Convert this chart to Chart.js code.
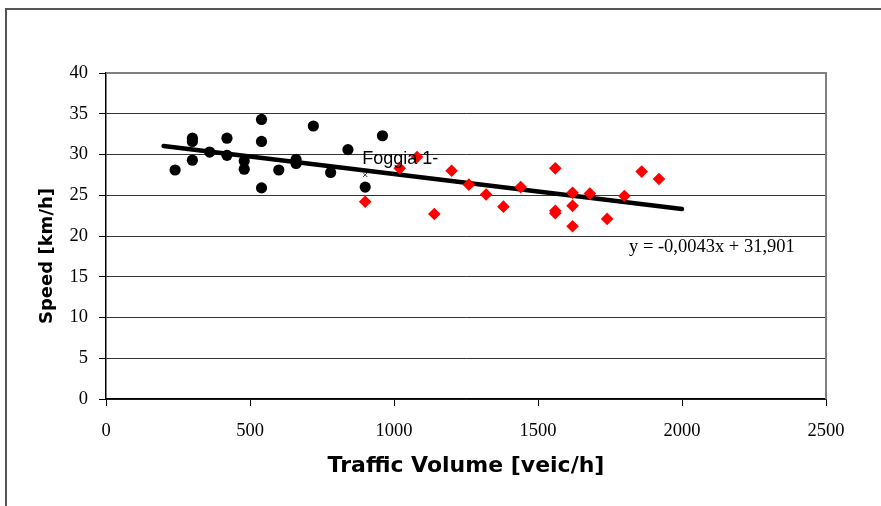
<!DOCTYPE html>
<html>
<head>
<meta charset="utf-8">
<script src="https://cdn.jsdelivr.net/npm/chart.js@4.4.1/dist/chart.umd.min.js"></script>
<style>
  html, body { margin: 0; padding: 0; background: #fff; overflow: hidden; }
  #wrap { position: relative; width: 881px; height: 506px; }
  #frame { position: absolute; left: 5px; top: 8px; width: 900px; height: 520px;
           border: 2px solid #555; box-sizing: border-box; pointer-events: none; }
  canvas { position: absolute; left: 0; top: 0; }
</style>
</head>
<body>
<div id="wrap">
  <canvas id="c" width="881" height="506"></canvas>
  <div id="frame"></div>
</div>
<script>
// Traffic volume [veic/h] and speed [km/h] for the two groups of measurements
const lowVolumeX  = [240, 300, 300, 300, 360, 420, 420, 480, 480, 540, 540, 540, 600, 660, 660, 720, 780, 840, 900, 960];
const lowVolumeY  = [28.1, 32.0, 31.6, 29.3, 30.3, 32.0, 29.9, 29.2, 28.2, 34.3, 31.6, 25.9, 28.1, 29.4, 28.9, 33.5, 27.8, 30.6, 26.0, 32.3];
const highVolumeX = [900, 1020, 1080, 1140, 1200, 1260, 1320, 1380, 1440, 1560, 1560, 1560, 1620, 1620, 1620, 1680, 1740, 1800, 1860, 1920];
const highVolumeY = [24.2, 28.3, 29.7, 22.7, 28.0, 26.3, 25.1, 23.6, 26.0, 28.3, 23.1, 22.8, 25.3, 23.7, 21.2, 25.2, 22.1, 24.9, 27.9, 27.0];

// Labelled site point
const siteName = 'Foggia 1-';
const siteX = [900];
const siteY = [27.5];

// Linear trend: y = -0,0043x + 31,901
const trendSlope = -0.0043;
const trendIntercept = 31.901;
const trendRangeX = [200, 2000];
const trendLabel = 'y = -0,0043x + 31,901';
const trendLabelAt = [1816, 18.65];

// Axis ticks
const xTicks = [0, 500, 1000, 1500, 2000, 2500];
const yTicks = [0, 5, 10, 15, 20, 25, 30, 35, 40];

const xTitle = 'Traffic Volume [veic/h]';
const yTitle = 'Speed [km/h]';

const toPoints = (xs, ys) => xs.map((x, i) => ({ x: x, y: ys[i] }));
const trendPoints = trendRangeX.map(x => ({ x: x, y: trendSlope * x + trendIntercept }));

const serif = "'Liberation Serif', 'Times New Roman', serif";
const boldSans = "'DejaVu Sans', Verdana, sans-serif";

// Plot frame (grey top/right), axis titles and text labels
const decor = {
  id: 'decor',
  beforeDatasetsDraw(chart) {
    const { ctx, chartArea: a } = chart;
    ctx.save();
    ctx.strokeStyle = '#808080';
    ctx.lineWidth = 2;
    ctx.beginPath();
    ctx.moveTo(a.left, a.top);
    ctx.lineTo(a.right, a.top);
    ctx.lineTo(a.right, a.bottom);
    ctx.stroke();
    ctx.restore();
  },
  afterDraw(chart) {
    const { ctx, chartArea: a, scales } = chart;
    ctx.save();
    ctx.fillStyle = '#000';
    ctx.textAlign = 'center';
    ctx.textBaseline = 'middle';
    ctx.font = "bold 22px " + boldSans;
    ctx.fillText(xTitle, (a.left + a.right) / 2, 466);
    ctx.font = "bold 18px " + boldSans;
    ctx.save();
    ctx.translate(47, 256);
    ctx.rotate(-Math.PI / 2);
    ctx.fillText(yTitle, 0, 0);
    ctx.restore();

    // site label above its marker
    const pt = chart.getDatasetMeta(2).data[0];
    ctx.textAlign = 'left';
    ctx.font = "18px 'Liberation Sans', Arial, sans-serif";
    ctx.fillText(siteName, pt.x - 3, pt.y - 16);

    // trend equation
    ctx.font = "18.5px " + serif;
    ctx.fillText(trendLabel, scales.x.getPixelForValue(trendLabelAt[0]), scales.y.getPixelForValue(trendLabelAt[1]));
    ctx.restore();
  }
};

new Chart(document.getElementById('c'), {
  type: 'scatter',
  data: {
    datasets: [
      {
        data: toPoints(lowVolumeX, lowVolumeY),
        pointStyle: 'circle', pointRadius: 5.6,
        backgroundColor: '#000', borderColor: '#000', borderWidth: 0
      },
      {
        data: toPoints(highVolumeX, highVolumeY),
        pointStyle: 'rectRot', pointRadius: 6.3,
        backgroundColor: '#ff0000', borderColor: '#ff0000', borderWidth: 0
      },
      {
        data: toPoints(siteX, siteY),
        pointStyle: 'crossRot', pointRadius: 3,
        backgroundColor: '#333', borderColor: '#333', borderWidth: 1
      },
      {
        type: 'line',
        data: trendPoints,
        borderColor: '#000', borderWidth: 4.5, pointRadius: 0,
        borderCapStyle: 'round', fill: false, tension: 0
      }
    ]
  },
  options: {
    responsive: false,
    animation: false,
    events: [],
    layout: { padding: { left: 0, top: 73, right: 55, bottom: 7 } },
    plugins: { legend: { display: false }, tooltip: { enabled: false } },
    scales: {
      x: {
        type: 'linear', min: 0, max: 2500,
        afterFit(s) { s.height = 100; },
        afterBuildTicks(s) { s.ticks = xTicks.map(v => ({ value: v })); },
        grid: { drawOnChartArea: false, drawTicks: true, tickLength: 7, tickColor: '#000', tickWidth: 1 },
        border: { display: true, color: '#000', width: 1.5 },
        ticks: { color: '#000', padding: 14, maxRotation: 0, font: { family: serif, size: 18.5 },
                 callback: v => String(v) }
      },
      y: {
        type: 'linear', min: 0, max: 40,
        afterFit(s) { s.width = 106; },
        afterBuildTicks(s) { s.ticks = yTicks.map(v => ({ value: v })); },
        grid: { color: '#333', lineWidth: 1, drawTicks: true, tickLength: 7, tickColor: '#000', tickWidth: 1 },
        border: { display: true, color: '#000', width: 1.5 },
        ticks: { color: '#000', padding: 11, font: { family: serif, size: 18.5 },
                 callback: v => String(v) }
      }
    }
  },
  plugins: [decor]
});
</script>
</body>
</html>
